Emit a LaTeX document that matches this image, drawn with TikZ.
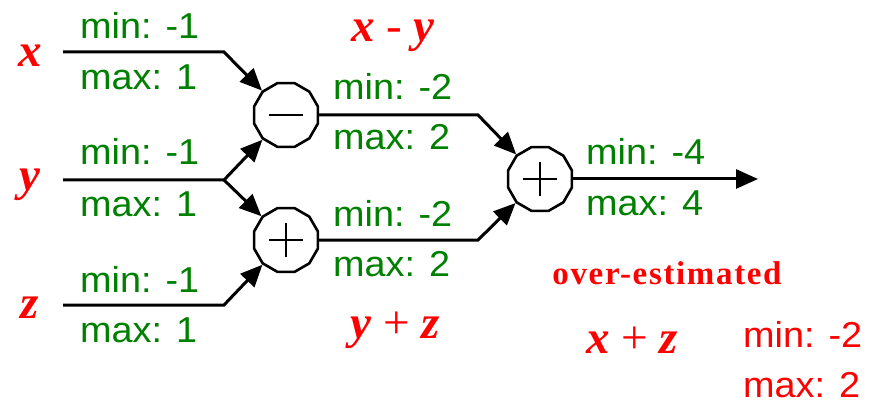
\documentclass[tikz,border=0pt]{standalone}
\usepackage{fontspec}
\setmainfont{Liberation Serif}
\newfontfamily\rangefont[FakeStretch=1.05]{Liberation Sans}
\newfontfamily\notefont[LetterSpace=5]{Liberation Serif}
\usetikzlibrary{shapes.geometric,arrows.meta}
\definecolor{rangegreen}{RGB}{0,128,0}

\begin{document}
\begin{tikzpicture}[
    x=1pt, y=-1pt,
    op/.style={regular polygon, regular polygon sides=12, draw, line width=2.6pt, minimum size=66pt, inner sep=0pt, fill=white},
    wire/.style={line width=3pt, -{Triangle[length=22pt, width=19pt]}},
    sign/.style={line width=2.2pt},
    bounds/.style={font=\rangefont\fontsize{36}{40}\selectfont, text=rangegreen, anchor=base west, inner sep=0pt},
    var/.style={font=\fontsize{47}{50}\selectfont\bfseries\itshape, text=red, anchor=base, inner sep=0pt},
    note/.style={font=\notefont\fontsize{33}{36}\selectfont\bfseries, text=red, anchor=base, inner sep=0pt}
]

\useasboundingbox (0,0) rectangle (878,406);

% Operators
\node[op] (sub) at (286,115) {};
\node[op] (addA) at (286,240) {};
\node[op] (addB) at (540,179) {};

\draw[sign] (sub.center) ++(-17,0) -- ++(34,0);
\draw[sign] (addA.center) ++(-17,0) -- ++(34,0) (addA.center) ++(0,-17) -- ++(0,34);
\draw[sign] (addB.center) ++(-17,0) -- ++(34,0) (addB.center) ++(0,-17) -- ++(0,34);

% Inputs
\coordinate (xin) at (63,52);
\coordinate (xbend) at (224,52);
\coordinate (yin) at (63,180);
\coordinate (ybend) at (224,180);
\coordinate (zin) at (63,305);
\coordinate (zbend) at (224,305);

\draw[wire] (xin) -- (xbend) -- (sub);
\draw[wire] (yin) -- (ybend) -- (sub);
\draw[wire] (ybend) -- (addA);
\draw[wire] (zin) -- (zbend) -- (addA);

% Second stage
\coordinate (subbend) at (478,115);
\coordinate (addAbend) at (478,240);
\coordinate (out) at (758,179);

\draw[wire] (sub) -- (subbend) -- (addB);
\draw[wire] (addA) -- (addAbend) -- (addB);
\draw[wire] (addB) -- (out);

% Variable names
\node[var] (xlab) at (30,67) {x};
\node[var] (ylab) at (30,191) {y};
\node[var] (zlab) at (30,318) {z};
\node[var] (difflab) at (393,42) {x {\mdseries\upshape -} y};
\node[var] (sumlab) at (395,338) {y {\mdseries\upshape +} z};
\node[var] (estlab) at (632,353) {x {\mdseries\upshape +} z};

% Ranges
\node[bounds] (xmin) at (80,39) {min: -1};
\node[bounds] (xmax) at (80,90) {max: 1};
\node[bounds] (ymin) at (80,165) {min: -1};
\node[bounds] (ymax) at (80,217) {max: 1};
\node[bounds] (zmin) at (80,292) {min: -1};
\node[bounds] (zmax) at (80,342) {max: 1};
\node[bounds] (submin) at (333,100) {min: -2};
\node[bounds] (submax) at (333,150) {max: 2};
\node[bounds] (addAmin) at (333,226) {min: -2};
\node[bounds] (addAmax) at (333,276) {max: 2};
\node[bounds] (addBmin) at (586,165) {min: -4};
\node[bounds] (addBmax) at (586,216) {max: 4};

% Over-estimation note
\node[note] (over) at (667,284) {over-estimated};
\node[bounds, text=red] (estmin) at (743,347) {min: -2};
\node[bounds, text=red] (estmax) at (743,397) {max: 2};

\end{tikzpicture}
\end{document}
